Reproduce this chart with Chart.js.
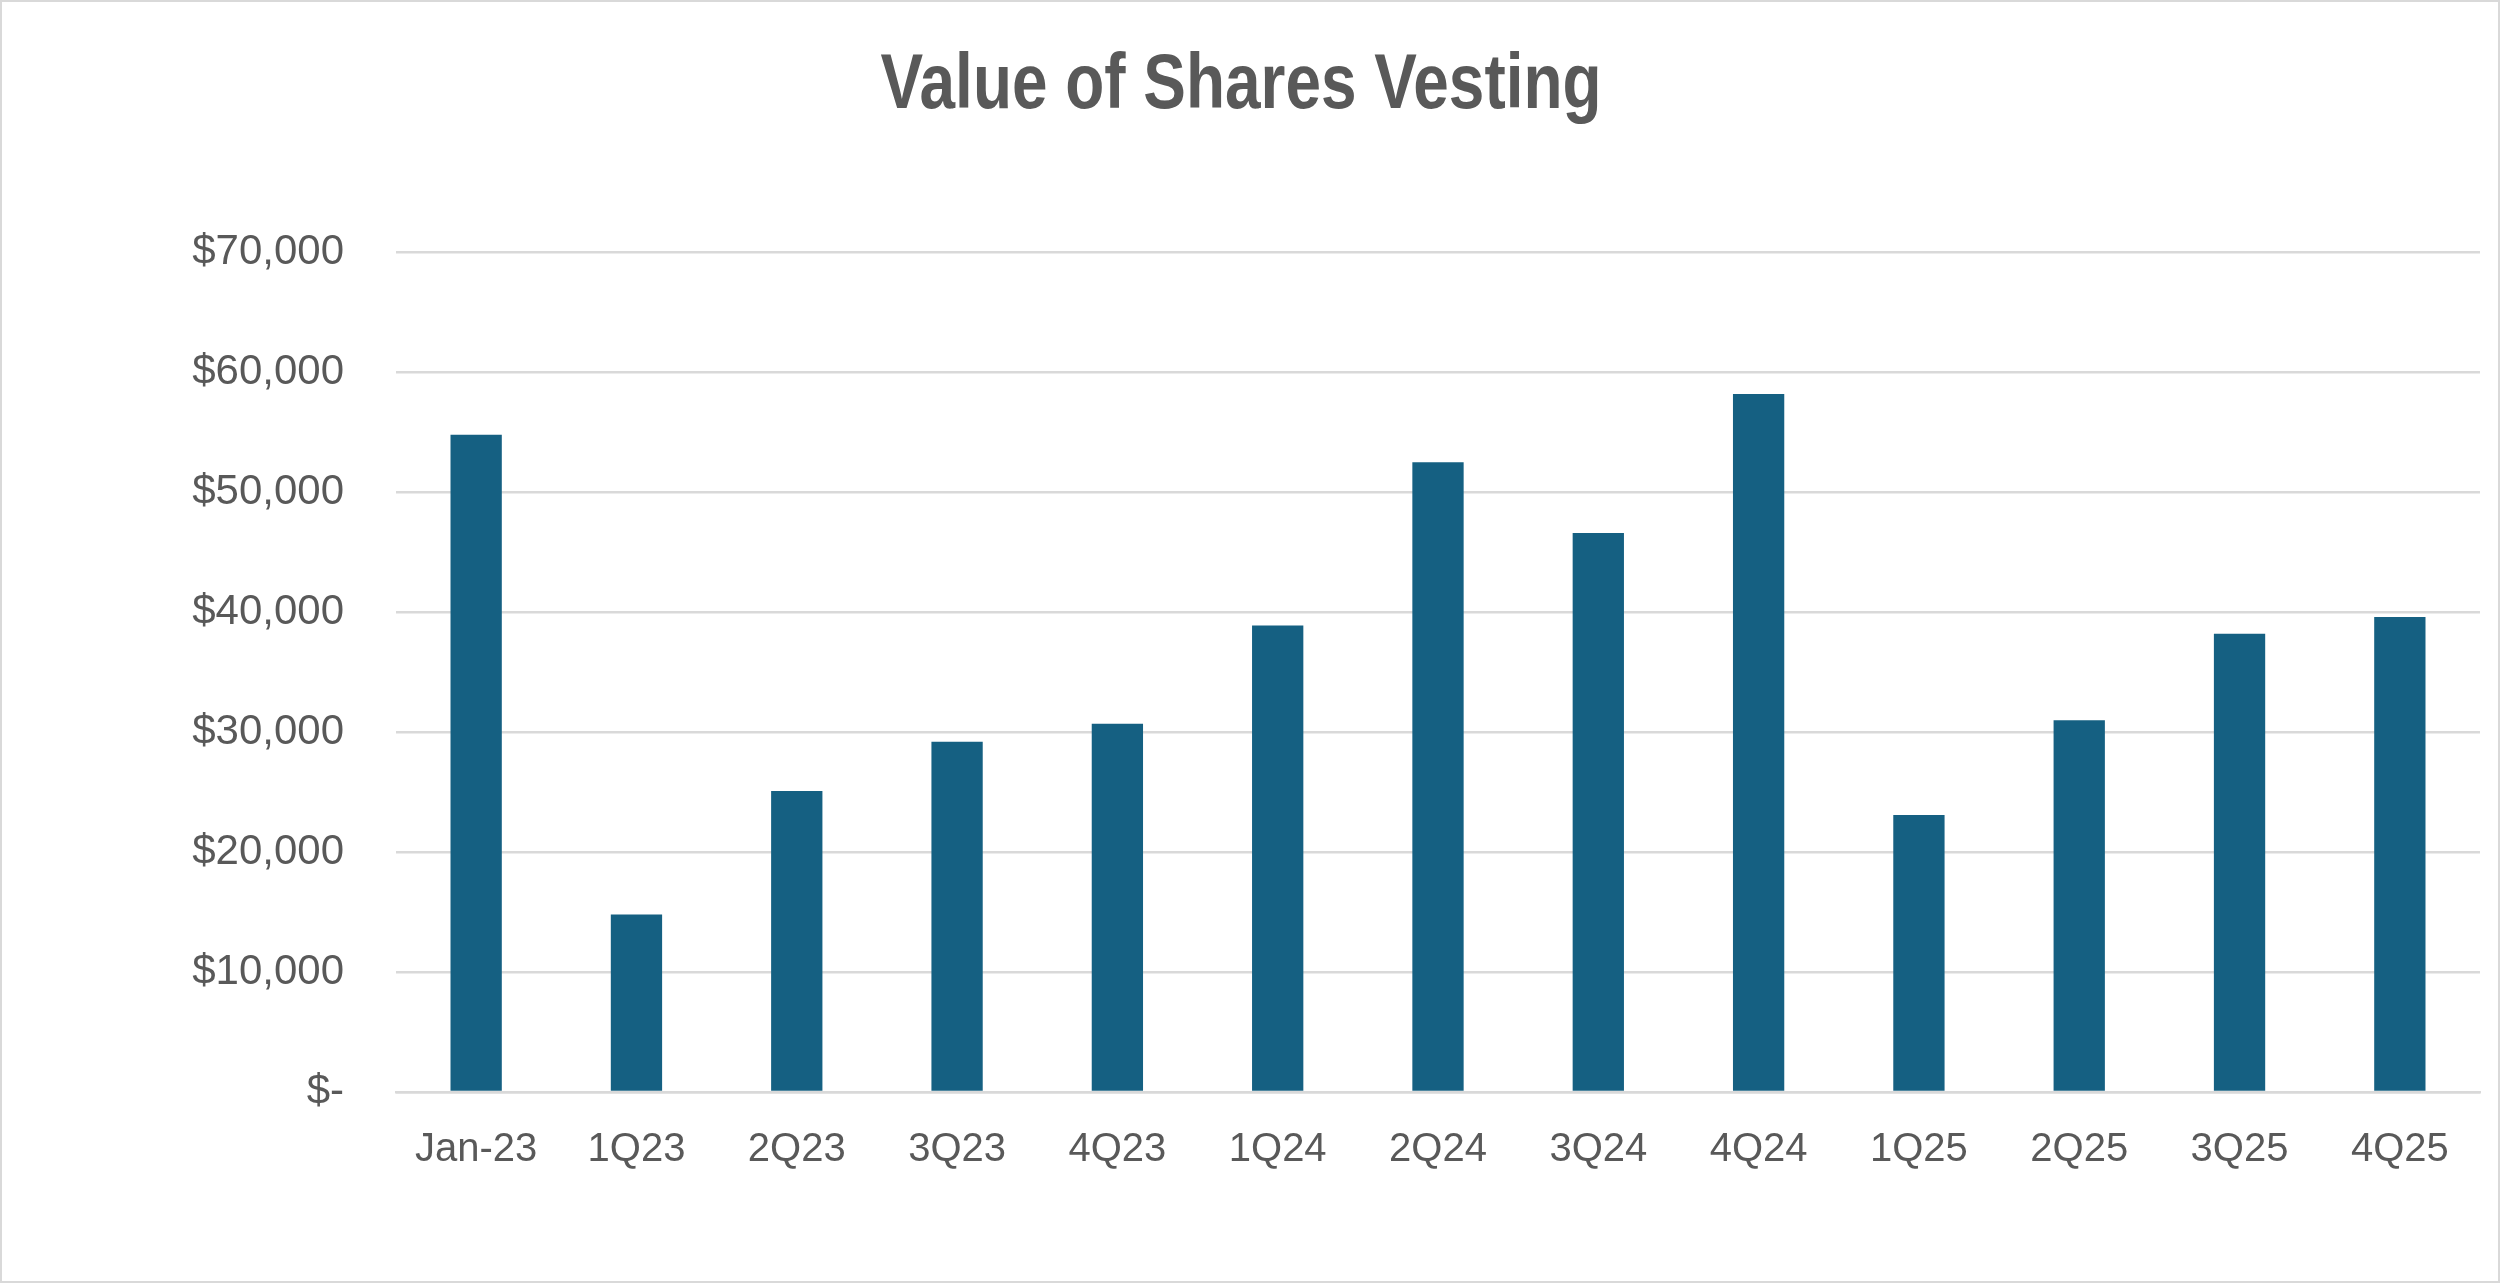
<!DOCTYPE html>
<html>
<head>
<meta charset="utf-8">
<script src="https://cdn.jsdelivr.net/npm/chart.js@4"></script>
<style>
  html, body { margin: 0; padding: 0; background: #fff; }
  #wrap { width: 2500px; height: 1283px; box-sizing: border-box; border: 2px solid #d9d9d9; background: #fff; }
</style>
</head>
<body>
<div id="wrap"><canvas id="vestChart"></canvas></div>
<script>
 // Chart data
 const categories = ['Jan-23', '1Q23', '2Q23', '3Q23', '4Q23', '1Q24', '2Q24', '3Q24', '4Q24', '1Q25', '2Q25', '3Q25', '4Q25'];
 const vestValues = [54800, 14800, 25100, 29200, 30700, 38900, 52500, 46600, 58200, 23100, 31000, 38200, 39600];
 const yTicks = [0, 10000, 20000, 30000, 40000, 50000, 60000, 70000];

 const money = v => v === 0 ? '$-' : '$' + v.toLocaleString('en-US');

 const titleFont = { family: '"Liberation Sans", Arial, sans-serif', size: 77, weight: 'bold', lineHeight: 1.2 };
 const titlePad = { top: 39, bottom: 119 };

 // Title drawn narrow (no condensed font installed), title plugin keeps the space
 const narrowTitle = {
     id: 'narrowTitle',
     afterDraw(chart) {
         const c = chart.ctx;
         const tb = chart.titleBlock;
         const cx = tb.left + tb.width / 2;
         const cy = tb.top + titlePad.top + titleFont.size * titleFont.lineHeight / 2;
         c.save();
         c.translate(cx, cy);
         c.scale(0.83, 1);
         c.font = 'bold ' + titleFont.size + 'px ' + titleFont.family;
         c.fillStyle = '#595959';
         c.textAlign = 'center';
         c.textBaseline = 'middle';
         c.fillText(chart.options.plugins.title.text, 0, 0);
         c.restore();
     }
 };

 const ctxVest = document.getElementById('vestChart').getContext('2d');

 const vestChart = new Chart(ctxVest, {
     type: 'bar',
     data: {
         labels: categories,
         datasets: [{
             label: 'Value of Shares Vesting',
             data: vestValues,
             backgroundColor: '#156082',
             borderWidth: 0,
             categoryPercentage: 1,
             barPercentage: 0.32
         }]
     },
     options: {
         responsive: true,
         maintainAspectRatio: false,
         animation: false,
         devicePixelRatio: 1,
         layout: {
             padding: { left: 0, right: 18, top: 0, bottom: 73 }
         },
         plugins: {
             legend: { display: false },
             tooltip: { enabled: false },
             title: {
                 display: true,
                 text: 'Value of Shares Vesting',
                 color: 'rgba(0,0,0,0)',
                 font: titleFont,
                 padding: titlePad
             }
         },
         scales: {
             x: {
                 grid: { display: false, drawTicks: false },
                 border: { display: true, color: '#d9d9d9', width: 2.5 },
                 ticks: {
                     color: '#595959',
                     font: { family: '"Liberation Sans", Arial, sans-serif', size: 40 },
                     padding: 34,
                     maxRotation: 0
                 }
             },
             y: {
                 min: 0,
                 max: 70000,
                 afterBuildTicks: s => { s.ticks = yTicks.map(v => ({ value: v })); },
                 afterFit: s => { s.width = 394; },
                 grid: { color: '#d9d9d9', lineWidth: 2.5, drawTicks: false },
                 border: { display: false },
                 ticks: {
                     color: '#595959',
                     font: { family: '"Liberation Sans", Arial, sans-serif', size: 42 },
                     padding: 52,
                     callback: v => money(v)
                 }
             }
         }
     },
     plugins: [narrowTitle]
 });
</script>
</body>
</html>
